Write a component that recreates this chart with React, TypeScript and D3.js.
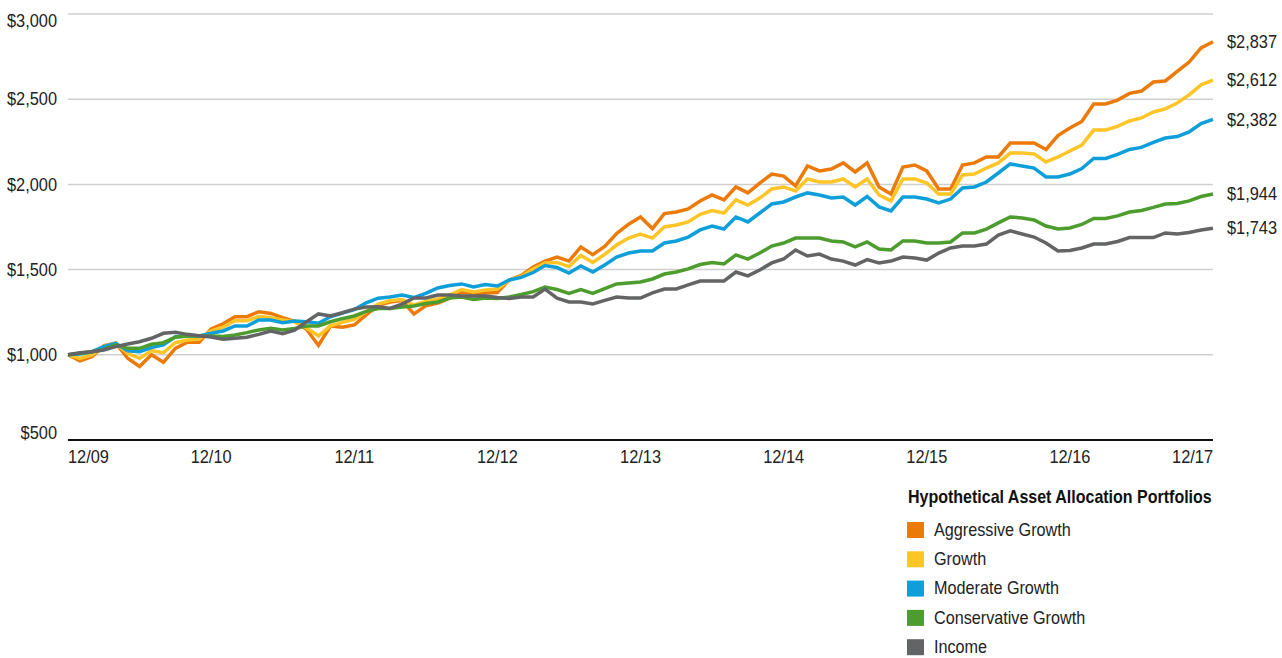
import React from "react";
import * as d3 from "d3";

const months: number[] = d3.range(0, 97);
const xTickIdx = [0, 12, 24, 36, 48, 60, 72, 84, 96];
const xTickLabels = ["12/09", "12/10", "12/11", "12/12", "12/13", "12/14", "12/15", "12/16", "12/17"];
const yTicks = [500, 1000, 1500, 2000, 2500, 3000];

const seriesNames = ["Aggressive Growth", "Growth", "Moderate Growth", "Conservative Growth", "Income"];
const seriesColors = ["#EC7A08", "#FFC425", "#0E9FDB", "#4C9C2E", "#636466"];

const aggressive = [
  1000, 964, 989, 1052, 1069, 980, 932, 1000, 956, 1038, 1074, 1074, 1152,
  1182, 1224, 1224, 1253, 1243, 1218, 1196, 1150, 1055, 1169, 1162, 1175,
  1234, 1290, 1310, 1318, 1240, 1287, 1304, 1333, 1366, 1360, 1363, 1366,
  1439, 1466, 1515, 1550, 1574, 1550, 1633, 1588, 1636, 1712, 1766, 1809,
  1741, 1829, 1838, 1856, 1903, 1938, 1909, 1985, 1950, 2008, 2061, 2049,
  1991, 2108, 2079, 2090, 2126, 2073, 2126, 1985, 1944, 2102, 2114, 2079,
  1973, 1973, 2114, 2126, 2161, 2161, 2243, 2243, 2243, 2205, 2287, 2331,
  2369, 2472, 2472, 2495, 2534, 2548, 2601, 2607, 2663, 2718, 2801, 2837,
];
const growth = [
  1000, 979, 1000, 1048, 1067, 1009, 979, 1024, 1012, 1071, 1087, 1091, 1140,
  1162, 1200, 1200, 1224, 1218, 1204, 1194, 1157, 1110, 1170, 1190, 1208,
  1254, 1298, 1318, 1325, 1292, 1313, 1328, 1350, 1383, 1369, 1380, 1386,
  1439, 1460, 1504, 1539, 1542, 1518, 1583, 1542, 1589, 1644, 1685, 1709,
  1685, 1750, 1762, 1780, 1824, 1847, 1832, 1909, 1879, 1920, 1973, 1985,
  1961, 2032, 2014, 2014, 2032, 1985, 2032, 1938, 1903, 2032, 2032, 2008,
  1944, 1944, 2055, 2061, 2096, 2126, 2184, 2184, 2179, 2132, 2161, 2196,
  2231, 2319, 2319, 2340, 2372, 2390, 2425, 2443, 2478, 2525, 2584, 2612,
];
const moderate = [
  1000, 1005, 1018, 1048, 1067, 1024, 1018, 1042, 1058, 1106, 1110, 1110, 1126,
  1140, 1169, 1169, 1204, 1204, 1188, 1198, 1194, 1185, 1223, 1245, 1265,
  1305, 1332, 1339, 1351, 1336, 1360, 1392, 1407, 1416, 1398, 1413, 1404,
  1439, 1454, 1483, 1524, 1512, 1480, 1521, 1486, 1527, 1574, 1597, 1609,
  1609, 1656, 1668, 1691, 1733, 1756, 1738, 1809, 1780, 1832, 1885, 1897,
  1926, 1950, 1938, 1920, 1926, 1879, 1929, 1868, 1844, 1926, 1926, 1914,
  1891, 1914, 1979, 1985, 2014, 2067, 2120, 2108, 2096, 2044, 2044, 2061,
  2093, 2152, 2152, 2176, 2205, 2217, 2246, 2272, 2281, 2308, 2357, 2382,
];
const conservative = [
  1000, 1009, 1018, 1032, 1058, 1038, 1038, 1062, 1071, 1103, 1110, 1110, 1110,
  1108, 1116, 1130, 1146, 1155, 1146, 1155, 1169, 1169, 1194, 1212, 1228,
  1255, 1272, 1272, 1281, 1287, 1301, 1310, 1333, 1339, 1325, 1333, 1330,
  1339, 1354, 1371, 1398, 1383, 1360, 1383, 1360, 1389, 1416, 1422, 1427,
  1445, 1474, 1486, 1504, 1530, 1542, 1533, 1586, 1562, 1597, 1638, 1656,
  1685, 1685, 1685, 1668, 1662, 1633, 1662, 1621, 1615, 1668, 1668, 1656,
  1656, 1662, 1715, 1715, 1738, 1774, 1809, 1803, 1791, 1756, 1738, 1744,
  1765, 1800, 1800, 1815, 1838, 1847, 1865, 1885, 1888, 1903, 1929, 1944,
];
const income = [
  1000, 1012, 1018, 1028, 1048, 1063, 1077, 1097, 1126, 1132, 1120, 1112, 1104,
  1092, 1097, 1103, 1120, 1140, 1124, 1144, 1194, 1240, 1228, 1247, 1268,
  1280, 1282, 1272, 1298, 1333, 1333, 1351, 1351, 1345, 1345, 1345, 1336,
  1330, 1339, 1339, 1386, 1333, 1310, 1310, 1298, 1319, 1339, 1333, 1333,
  1363, 1386, 1386, 1410, 1433, 1433, 1433, 1486, 1463, 1498, 1539, 1562,
  1615, 1580, 1591, 1562, 1550, 1527, 1559, 1539, 1550, 1574, 1568, 1556,
  1597, 1627, 1638, 1638, 1650, 1703, 1727, 1709, 1691, 1656, 1609, 1612,
  1627, 1650, 1650, 1665, 1688, 1688, 1688, 1715, 1709, 1718, 1732, 1743,
];

const seriesValues = [aggressive, growth, moderate, conservative, income];
const legendTitle = "Hypothetical Asset Allocation Portfolios";

const FONT = "'Liberation Sans', Arial, sans-serif";

type TProps = {
  x: number;
  y: number;
  anchor?: "start" | "middle" | "end";
  size?: number;
  weight?: string;
  sx?: number;
  fill?: string;
  baseline?: string;
  children: React.ReactNode;
};

function T({ x, y, anchor = "start", size = 18, weight = "normal", sx = 0.91, fill = "#222", baseline, children }: TProps) {
  return (
    <g transform={`translate(${x},${y}) scale(${sx},1)`}>
      <text
        x={0}
        y={0}
        textAnchor={anchor}
        dominantBaseline={baseline}
        fontSize={size}
        fontWeight={weight}
        fill={fill}
      >
        {children}
      </text>
    </g>
  );
}

export default function App() {
  const W = 1282;
  const H = 658;
  const x = d3.scaleLinear().domain([0, 96]).range([68, 1213]);
  const y = d3.scaleLinear().domain([500, 3000]).range([440, 14]);
  const fmt = d3.format("$,");
  const line = d3
    .line<number>()
    .x((_, i) => x(months[i]))
    .y((d) => y(d));

  const legendY = d3.scaleLinear().domain([0, 1]).range([530, 559.3]);

  return (
    <svg
      width={W}
      height={H}
      style={{ position: "absolute", left: 0, top: 0, background: "#fff" }}
      fontFamily={FONT}
    >
      {yTicks
        .filter((t) => t > 500)
        .map((t) => (
          <line key={"g" + t} x1={x(0)} x2={x(96)} y1={y(t)} y2={y(t)} stroke="#cfcfcf" strokeWidth={1.5} />
        ))}
      {yTicks.map((t) => (
        <T key={"yl" + t} x={57} y={Math.min(Math.max(y(t), 21), 433)} anchor="end" baseline="central">
          {fmt(t)}
        </T>
      ))}
      {seriesValues.map((vals, s) => (
        <path
          key={"s" + s}
          d={line(vals) || ""}
          fill="none"
          stroke={seriesColors[s]}
          strokeWidth={3.5}
          strokeLinejoin="miter"
        />
      ))}
      <line x1={x(0)} x2={x(96)} y1={y(500)} y2={y(500)} stroke="#111" strokeWidth={2} />
      {xTickIdx.map((m, i) => (
        <T
          key={"xl" + m}
          x={x(m)}
          y={463}
          anchor={i === 0 ? "start" : i === xTickIdx.length - 1 ? "end" : "middle"}
        >
          {xTickLabels[i]}
        </T>
      ))}
      {seriesValues.map((vals, s) => (
        <T key={"el" + s} x={1227} y={y(vals[vals.length - 1])} baseline="central">
          {fmt(vals[vals.length - 1])}
        </T>
      ))}
      <T x={908} y={503} size={18} weight="bold" sx={0.89} fill="#111">
        {legendTitle}
      </T>
      {seriesNames.map((n, i) => (
        <g key={"lg" + i}>
          <rect x={907} y={legendY(i) - 8} width={17} height={16} fill={seriesColors[i]} />
          <T x={934} y={legendY(i)} size={18} sx={0.9} baseline="central">
            {n}
          </T>
        </g>
      ))}
    </svg>
  );
}
